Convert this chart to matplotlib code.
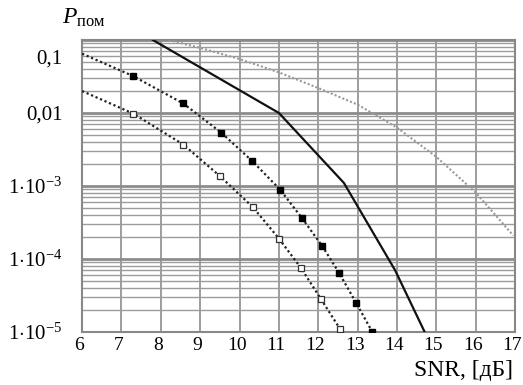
import matplotlib
matplotlib.use('Agg')
import matplotlib.pyplot as plt
import matplotlib.transforms as mtransforms
from matplotlib.ticker import LogLocator, NullFormatter

plt.rcParams['font.family'] = ['Liberation Serif', 'DejaVu Serif']
plt.rcParams['mathtext.fontset'] = 'custom'
plt.rcParams['mathtext.rm'] = 'Liberation Serif'
plt.rcParams['mathtext.it'] = 'Liberation Serif:italic'

# solid curve
snr_solid = [7.8, 11.0, 12.65, 13.95, 14.7]
p_solid = [0.1, 0.01, 1.1e-3, 7e-5, 1e-5]

# light dotted curve
snr_gray = [8.2, 9.0, 10.0, 11.0, 12.0, 13.0, 14.0, 15.0, 16.0, 16.95]
p_gray = [0.1, 0.078, 0.055, 0.036, 0.022, 0.013, 0.0063, 0.0025, 8.1e-4, 2.1e-4]

# filled squares
snr_filled = [6.0, 7.3, 8.57, 9.53, 10.32, 11.03, 11.59, 12.10, 12.53, 12.96, 13.37]
p_filled = [0.065, 0.032, 0.0135, 0.0054, 0.0022, 8.9e-4, 3.6e-4, 1.5e-4, 6.4e-5, 2.5e-5, 1e-5]

# open squares
snr_open = [6.0, 7.3, 8.57, 9.51, 10.34, 11.0, 11.56, 12.07, 12.55]
p_open = [0.020, 0.0098, 0.0037, 1.35e-3, 5.1e-4, 1.9e-4, 7.5e-5, 2.8e-5, 1.1e-5]

xticks = list(range(6, 18))
yticks = [1e-5, 1e-4, 1e-3, 0.01, 0.1]
ylabels = [r'$1{\cdot}10^{-5}$', r'$1{\cdot}10^{-4}$', r'$1{\cdot}10^{-3}$', '0,01', '0,1']

fig = plt.figure(figsize=(5.23, 3.85), dpi=100)
ax = fig.add_axes([0.157, 0.138, 0.828, 0.758])
ax.set_yscale('log')
ax.set_xlim(6, 17)
ax.set_ylim(1e-5, 0.1)

ax.plot(snr_solid, p_solid, color='#111111', lw=1.6, zorder=3)
ax.plot(snr_gray, p_gray, color='#999999', lw=1.5, ls=(0, (1, 1)), zorder=3)
ax.plot(snr_filled, p_filled, color='#222222', lw=1.6, ls=(0, (1, 1.2)),
        marker='s', markersize=5, markerfacecolor='black', markeredgecolor='black',
        markevery=list(range(1, len(snr_filled))), zorder=3)
ax.plot(snr_open, p_open, color='#222222', lw=1.6, ls=(0, (1, 1.2)),
        marker='s', markersize=4.8, markerfacecolor='white', markeredgecolor='#333333',
        markeredgewidth=0.9, markevery=list(range(1, len(snr_open))), zorder=3)

ax.set_xticks(xticks)
ax.set_xticklabels([str(v) for v in xticks])
ax.set_yticks(yticks)
ax.set_yticklabels(ylabels)
ax.yaxis.set_minor_locator(LogLocator(base=10, subs=range(2, 10), numticks=20))
ax.yaxis.set_minor_formatter(NullFormatter())

ax.grid(True, which='major', axis='x', color='#8c8c8c', lw=1.2)
ax.grid(True, which='major', axis='y', color='#8c8c8c', lw=2.0)
ax.grid(True, which='minor', axis='y', color='#9c9c9c', lw=1.0)
ax.set_axisbelow(True)

ax.tick_params(axis='both', which='both', length=0)
ax.tick_params(axis='x', labelsize=14, pad=4)
ax.tick_params(axis='y', labelsize=15, pad=14)
for s in ax.spines.values():
    s.set_color('#888888')
    s.set_linewidth(1.5)

# the 0,1 label sits somewhat below its grid line in the original
lab = ax.get_yticklabels()[-1]
lab.set_transform(lab.get_transform() + mtransforms.ScaledTranslation(0, -0.17, fig.dpi_scale_trans))
# x labels sit a little left of their grid lines
for lab in ax.get_xticklabels():
    lab.set_transform(lab.get_transform() + mtransforms.ScaledTranslation(-0.03, 0, fig.dpi_scale_trans))

fig.text(62 / 523, 1 - 24 / 385, r'$P_{\mathrm{пом}}$', fontsize=17, ha='left', va='baseline')
fig.text(513 / 523, 1 - 376 / 385, 'SNR, [дБ]', fontsize=17, ha='right', va='baseline')

fig.savefig('out.png', dpi=100)
